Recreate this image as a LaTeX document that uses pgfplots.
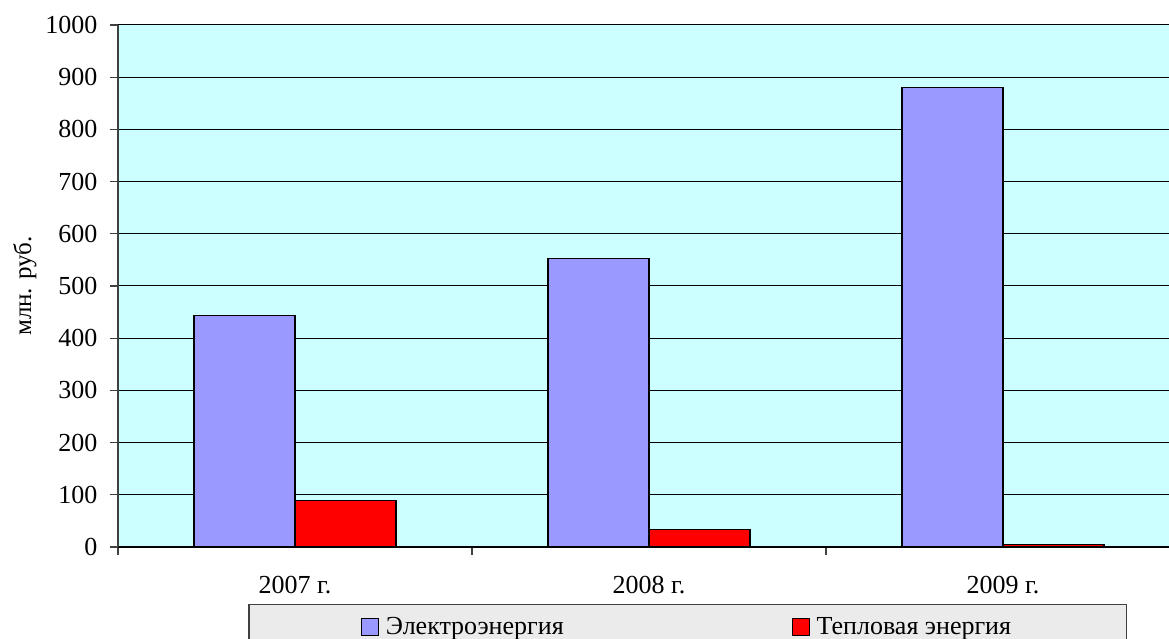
\documentclass[border=0pt]{standalone}
\usepackage{pgfplots}
\pgfplotsset{compat=1.18}
\usepackage{fontspec}
\setmainfont{Liberation Serif}
\definecolor{plotbg}{HTML}{CCFFFF}
\definecolor{elec}{HTML}{9999FF}
\definecolor{heat}{HTML}{FF0000}
\definecolor{legbg}{HTML}{EBEBEB}
\definecolor{axgray}{HTML}{404040}
\begin{document}
\begin{tikzpicture}[x=1pt,y=1pt]
\useasboundingbox (0,0) rectangle (1169,639);
\clip (0,0) rectangle (1169,639);
\begin{axis}[
  at={(118pt,92pt)}, anchor=south west,
  scale only axis, width=1051pt, height=522pt,
  xmin=-0.5, xmax=2.469, ymin=0, ymax=1000,
  ybar=0pt, bar width=101pt,
  axis background/.style={fill=plotbg},
  axis x line*=bottom, axis y line*=left,
  x axis line style={-, black, line width=1.2pt},
  y axis line style={-, axgray, line width=1.2pt},
  font=\fontsize{26}{31}\selectfont,
  tick label style={font=\fontsize{26}{31}\selectfont},
  /pgf/number format/assume math mode=true,
  /pgf/number format/1000 sep={},
  ytick={0,100,...,1000},
  yticklabel style={xshift=-9pt},
  ymajorgrids,
  major grid style={black, line width=1pt},
  tick align=outside,
  major tick length=8pt,
  tick style={axgray, line width=1.2pt},
  xtick={-0.5,0.5,1.5},
  xticklabels={},
  extra x ticks={0,1,2},
  extra x tick labels={2007 г.,2008 г.,2009 г.},
  extra x tick style={tick style={draw=none}, xticklabel style={yshift=-18pt}},
  ylabel={млн. руб.},
  ylabel style={at={(axis description cs:-0.0885,0.5)}, anchor=center, font=\fontsize{25}{30}\selectfont},
  legend columns=2,
  legend image code/.code={\draw[#1, line width=1pt] (0pt,-8.5pt) rectangle (17pt,8.5pt);},
  legend style={at={(rel axis cs:0.5419,0)}, anchor=north, yshift=-57pt,
    draw=axgray, fill=legbg, line width=1.2pt,
    font=\fontsize{26}{31}\selectfont,
    inner xsep=112pt, inner ysep=10pt,
    nodes={inner sep=3pt},
    /tikz/every odd column/.append style={column sep=4pt},
    /tikz/every even column/.append style={column sep=225pt}},
]
\addplot[draw=black, fill=elec, line width=1.2pt] coordinates {(0,444) (1,552) (2,881)};
\addplot[draw=black, fill=heat, line width=1.2pt] coordinates {(0,89) (1,33) (2,5)};
\legend{Электроэнергия, Тепловая энергия}
\end{axis}
\end{tikzpicture}
\end{document}
